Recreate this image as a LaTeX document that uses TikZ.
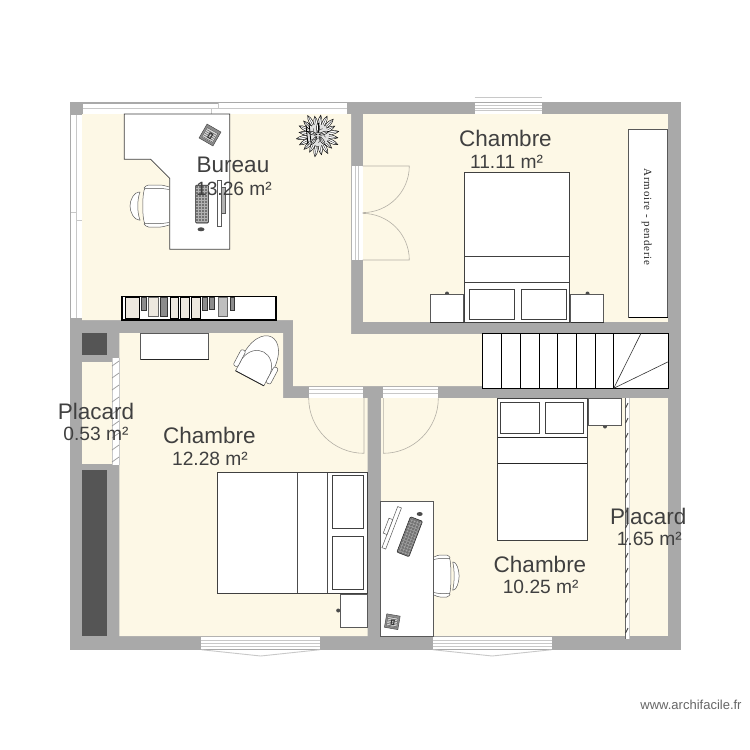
\documentclass[tikz,border=0pt]{standalone}
\usepackage{fontspec}
\setmainfont{Liberation Sans}
\newfontfamily\armfont[LetterSpace=8]{Liberation Serif}
\definecolor{wallc}{HTML}{A9A9A9}
\definecolor{floorc}{HTML}{FDF8E6}
\definecolor{darkc}{HTML}{555555}
\definecolor{textc}{HTML}{404040}
\definecolor{doorc}{HTML}{B4B0A6}
\definecolor{winc}{HTML}{C8C8C8}
\definecolor{bookc}{HTML}{EDE8DF}
\tikzset{
  floorz/.style={fill=floorc,draw=none},
  wallz/.style={fill=wallc,draw=none},
  darkz/.style={fill=darkc,draw=none},
  furn/.style={fill=white,draw=black!75,line width=0.7pt},
  furnthin/.style={fill=white,draw=black!65,line width=0.5pt},
  doorline/.style={draw=doorc,line width=0.6pt},
  winw/.style={fill=white,draw=none},
  winl/.style={draw=winc,line width=0.9pt},
  book/.style={fill=bookc,draw=black,line width=0.8pt},
  bookg/.style={fill=black!45,draw=black!80,line width=0.8pt},
  nametext/.style={font=\fontsize{22.5}{24}\selectfont,text=textc,inner sep=0pt},
  areatext/.style={font=\fontsize{19.2}{20}\selectfont,text=textc,inner sep=0pt},
  officechair/.pic={
    \path[furnthin] (11.3,-18) -- (-13,-18) .. controls (-16,-14) and (-16,14) .. (-13,18) -- (11.3,18);
    \path[furnthin,rounded corners=1.5pt] (11.3,-19) -- (4,-21) -- (-11,-21) -- (-15,-17) -- (-11,-17.5) -- (4,-17.5) -- (11.3,-16.5);
    \path[furnthin,rounded corners=1.5pt] (11.3,19) -- (4,21) -- (-11,21) -- (-15,17) -- (-11,17.5) -- (4,17.5) -- (11.3,16.5);
    \path[furnthin] (-19,-14) .. controls (-24,-14) and (-28,-6) .. (-28,0) .. controls (-28,6) and (-24,14) .. (-19,14) -- (-18,14) .. controls (-21,6) and (-21,-6) .. (-18,-14) -- cycle;
  },
  paperz/.pic={
    \path[fill=black!45,draw=black!70,line width=0.5pt] (-8,-8) rectangle (8,8);
    \path[fill=black!15,draw=black!70,line width=0.3pt] (-6,-5) rectangle (6,6);
    \foreach \u in {-3,-1,1,3,5} {\draw[black!65,line width=0.5pt] (-5.5,\u) -- (5.5,\u);}
    \draw[black!80,line width=1pt] (-1,-2) rectangle (2,3);
  },
  keyb/.pic={
    \path[fill=black!55,draw=black!85,line width=0.5pt,rounded corners=1pt] (-6.5,-19) rectangle (6.5,19);
    \foreach \u in {-16,-13,...,17} {\draw[white!70!black,line width=0.35pt] (-6,\u) -- (6,\u);}
    \foreach \u in {-4,-1,2,5} {\draw[white!70!black,line width=0.35pt] (\u,-18) -- (\u,18);}
  },
  leaf/.pic={
    \path[fill=white,draw=black,line width=0.45pt] (0,0) .. controls (3,-2.6) and (9,-2.6) .. (13,0) .. controls (9,2.6) and (3,2.6) .. (0,0) -- cycle;
    \draw[black,line width=0.3pt] (0,0) -- (12,0);
  }
}
\begin{document}
\begin{tikzpicture}[x=1pt,y=-1pt]
\useasboundingbox[fill=white] (0,0) rectangle (750,750);
% walls and floors
\path[wallz] (69.7,102) rectangle (680.7,649.5);
\path[floorz] (82,114) -- (351,114) -- (351,334) -- (667.7,334) -- (667.7,386) -- (293,386) -- (293,320) -- (82,320) -- cycle;
\path[floorz] (362.5,114) rectangle (667.7,322.3);
\path[floorz] (119.3,333) -- (283,333) -- (283,398) -- (367.7,398) -- (367.7,636) -- (119.3,636) -- cycle;
\path[floorz] (82,361.7) rectangle (112,464);
\path[floorz] (380.7,398) rectangle (667.7,636);
\path[darkz] (82,333.3) rectangle (107.3,355);
\path[darkz] (82,469.5) rectangle (107.3,636);
% windows: bureau top
\path[winw] (83,103) rectangle (346.7,113.5);
\draw[winl] (83,108.2) -- (218,108.2) (211,108.2) -- (211,113.5);
\draw[winl] (218,103) -- (218,108.2) -- (346.7,108.2);
\draw[wallc,line width=0.8pt] (83,103.6) -- (218,103.6);
% bureau left
\path[winw] (71,115) rectangle (81.5,318);
\draw[winl] (76.2,115) -- (76.2,318) (71,212.5) -- (76.2,212.5) (76.2,220) -- (81.5,220);
% double door
\path[winw] (351.5,166) rectangle (362.5,260);
\draw[winl] (355,166) -- (355,260) (358.7,166) -- (358.7,260);
\draw[doorline] (362.7,166) -- (409.3,166) arc[start angle=0,end angle=90,radius=46.6] (362.7,260) -- (409.3,260) arc[start angle=0,end angle=-90,radius=46.6];
% top window right
\path[winw] (474.7,102.5) rectangle (542.3,113.5);
\draw[winl] (474.7,105.5) -- (542.3,105.5) (474.7,108) -- (542.3,108) (474.7,110.5) -- (542.3,110.5);
\draw[winl] (474.7,97.5) -- (542.3,97.5);
% doors lower
\path[winw] (308.7,386.5) rectangle (363.3,397.5);
\draw[winl] (308.7,389.5) -- (363.3,389.5) (308.7,393.5) -- (363.3,393.5);
\draw[doorline] (364,398) -- (364,453.3) arc[start angle=90,end angle=180,radius=55.3];
\path[winw] (383.3,386.5) rectangle (438.3,397.5);
\draw[winl] (383.3,389.5) -- (438.3,389.5) (383.3,393.5) -- (438.3,393.5);
\draw[doorline] (383.3,398) -- (383.3,453.3) arc[start angle=90,end angle=0,radius=55];
% bottom windows
\path[winw] (201.3,636.5) rectangle (320,649);
\draw[winl] (201.3,640) -- (320,640) (201.3,643) -- (320,643) (201.3,646) -- (320,646);
\draw[winl] (201.3,649.7) -- (260.7,656) -- (320,649.7);
\path[winw] (432.7,636.5) rectangle (551.7,649);
\draw[winl] (432.7,640) -- (551.7,640) (432.7,643) -- (551.7,643) (432.7,646) -- (551.7,646);
\draw[winl] (432.7,649.7) -- (492.2,656) -- (551.7,649.7);
% placard sliding doors
\path[winw] (111.7,358) rectangle (119.3,465);
\draw[winl] (112,358) -- (112,465) (119.3,358) -- (119.3,465);
\foreach \yy in {366,378,...,462} {\draw[black!40,line width=0.7pt] (112,\yy) -- (119,\yy-5);}
\path[winw] (626,398) rectangle (629,639);
\draw[black!60,line width=0.7pt] (625.8,398) -- (625.8,639);
\draw[winl] (629,398) -- (629,639);
\foreach \yy in {408,423,...,636} {\draw[black!75,line width=0.9pt] (625.5,\yy) -- (628,\yy-5);}
% right room furniture
\path[furn] (464.7,172.3) rectangle (569.7,322);
\draw[black!75,line width=0.7pt] (464.7,256.7) -- (569.7,256.7) (464.7,282.7) -- (569.7,282.7);
\path[furn] (469.3,289) rectangle (514.7,319.3);
\path[furn] (521,289) rectangle (566,319.3);
\fill[black!70] (447,293.5) circle (2);
\fill[black!70] (587.5,293.5) circle (2);
\path[furnthin] (430.3,294) rectangle (463.7,322);
\path[furnthin] (570.7,294) rectangle (603.7,322);
\draw[black!80,line width=0.7pt] (430.3,322) -- (463.7,322) (570.7,322) -- (603.7,322);
\path[furnthin] (628.7,129.3) rectangle (667.7,317.7);
\draw[black,line width=0.8pt] (628.7,317.7) -- (667.7,317.7);
\node[rotate=-90,font=\armfont\fontsize{11}{12}\selectfont,text=black!85,inner sep=0pt] (armoire) at (646.7,217) {Armoire - penderie};
% stairs
\path[fill=white,draw=black,line width=0.9pt] (482.3,333.3) rectangle (668.3,388.3);
\foreach \xx in {501.3,520.3,539,557.7,576.3,595,613.7} {\draw[black,line width=0.7pt] (\xx,333.3) -- (\xx,388.3);}
\draw[black!80,line width=0.6pt] (613.7,388.3) -- (641,333.3) (613.7,388.3) -- (668.3,361.7);
% bureau furniture
\pic at (158,206) {officechair};
\path[furn] (124.3,114) -- (229.7,114) -- (229.7,249.3) -- (169.7,249.3) -- (169.7,178.3) -- (150.7,159.3) -- (124.3,159.3) -- cycle;
\pic[rotate=-30] at (210,135) {paperz};
\pic at (202,204) {keyb};
\path[furnthin] (217.3,180.7) rectangle (221,226);
\path[fill=black!30,draw=black!65,line width=0.4pt] (221,187) rectangle (225,212.7);
\path[fill=black!70] (201,229.3) ellipse (3.5 and 2);
% plant
\begin{scope}[shift={(318,135)}]
  \foreach \aa/\rr in {10/8,46/9,82/7,118/9,154/8,190/9,226/7,262/9,298/8,334/9} {
    \pic[rotate=\aa] at (-\aa:\rr) {leaf};
  }
  \foreach \aa/\rr in {28/6,64/8,100/6,136/7,172/6,208/8,244/6,280/7,316/6,352/7} {
    \pic[rotate=\aa] at (-\aa:\rr) {leaf};
  }
  \path[fill=black!12] (0,0) circle (11);
  \foreach \aa/\rr in {18/1,90/2,162/1,234/2,306/2} {
    \pic[rotate=\aa,scale=0.8] at (-\aa:\rr) {leaf};
  }
  \foreach \aa in {40,130,200,270,340} {
    \draw[black!70,line width=0.5pt] (\aa:3) arc[start angle=\aa,delta angle=70,radius=8];
  }
  \draw[black,line width=0.8pt] (-12,-10) -- (-10,10) (-9,-12) -- (-7,8);
\end{scope}
% bookshelf
\path[fill=white,draw=black,line width=1.1pt] (122,296.7) rectangle (276,320);
\path[book] (125,297.3) rectangle (139,318.3);
\path[bookg] (141.7,297.3) rectangle (146,310);
\path[fill=bookc,draw=black!60,line width=0.8pt] (148.3,297.3) rectangle (158.3,316);
\path[bookg] (160,297.3) rectangle (167.7,316);
\path[book] (170,297.3) rectangle (178.3,318.3);
\path[book] (180.7,297.3) rectangle (189,318.3);
\path[book] (191.7,297.3) rectangle (200.7,318.3);
\path[bookg] (202.7,297.3) rectangle (207.3,310);
\path[bookg] (209.3,297.3) rectangle (214.3,309.3);
\path[fill=black!25,draw=black!60,line width=0.8pt] (218.3,297.3) rectangle (227.7,316);
\path[bookg] (230,297.3) rectangle (234.3,310);
% lower left room furniture
\path[furnthin] (140,333.3) rectangle (208.7,359);
\draw[black!85,line width=0.8pt] (141,359.7) -- (208.7,359.7);
\begin{scope}[shift={(249.7,378.3)},rotate=-28]
  \path[fill=white,draw=black!65,line width=0.5pt] (-17,-13) .. controls (-19,-58) and (19,-58) .. (17,-13) -- cycle;
  \path[furnthin] (-16,0) -- (16,0) -- (16,-14) .. controls (12,-35) and (-12,-35) .. (-16,-14) -- cycle;
  \path[furnthin,rounded corners=2pt] (-21,-4) rectangle (-16,-22);
  \path[furnthin,rounded corners=2pt] (16,-4) rectangle (21,-22);
  \draw[black!85,line width=0.8pt] (-16,0) -- (16,0);
\end{scope}
\path[furn] (217.3,472.7) rectangle (367.7,593.3);
\draw[black!70,line width=0.7pt] (297.7,472.7) -- (297.7,593.3) (327.7,472.7) -- (327.7,593.3);
\path[furn] (332.3,475.3) rectangle (363,528.3);
\path[furn] (332.3,536.3) rectangle (363,589.3);
\fill[black!70] (338.2,610.5) circle (2);
\path[furnthin] (340,594.3) rectangle (367.7,627.3);
% lower right room furniture
\path[furn] (497.7,398) rectangle (587.3,540.7);
\draw[black!85,line width=0.7pt] (497.7,437.3) -- (587.3,437.3) (497.7,463.3) -- (587.3,463.3);
\path[furn] (500,402.7) rectangle (539.7,433);
\path[furn] (545,402.7) rectangle (583.7,433);
\fill[black!70] (605,426.5) circle (2);
\path[furnthin] (588.7,398) rectangle (621.7,425.7);
\pic[xscale=-0.64] at (441.2,576) {officechair};
\path[furnthin] (380.7,501.7) rectangle (433.3,636);
\begin{scope}[shift={(391.7,527.8)},rotate=-21]
  \path[furnthin] (-2,-22) rectangle (2,22);
  \path[furnthin] (-6,-8) rectangle (-2,8);
\end{scope}
\pic[rotate=-21] at (409.7,536.7) {keyb};
\path[fill=black!70] (419.7,514) ellipse (3 and 2);
\pic[rotate=-10,scale=0.85] at (392.3,621.7) {paperz};
% labels
\node[nametext] (n1) at (233,165) {Bureau};
\node[areatext] (a1) at (234,189) {13.26 m²};
\node[nametext] (n2) at (505.5,138) {Chambre};
\node[areatext] (a2) at (506.5,161.5) {11.11 m²};
\node[nametext] (n3) at (209.3,435) {Chambre};
\node[areatext] (a3) at (210,459) {12.28 m²};
\node[nametext] (n4) at (96,411.7) {Placard};
\node[areatext] (a4) at (96,434) {0.53 m²};
\node[nametext] (n5) at (540,564.3) {Chambre};
\node[areatext] (a5) at (540.7,586.7) {10.25 m²};
\node[nametext] (n6) at (648.3,516) {Placard};
\node[areatext] (a6) at (649.3,539) {1.65 m²};
\node[font=\fontsize{13}{15}\selectfont,text=black!60,inner sep=0pt] (site) at (691,704.5) {www.archifacile.fr};
\end{tikzpicture}
\end{document}
